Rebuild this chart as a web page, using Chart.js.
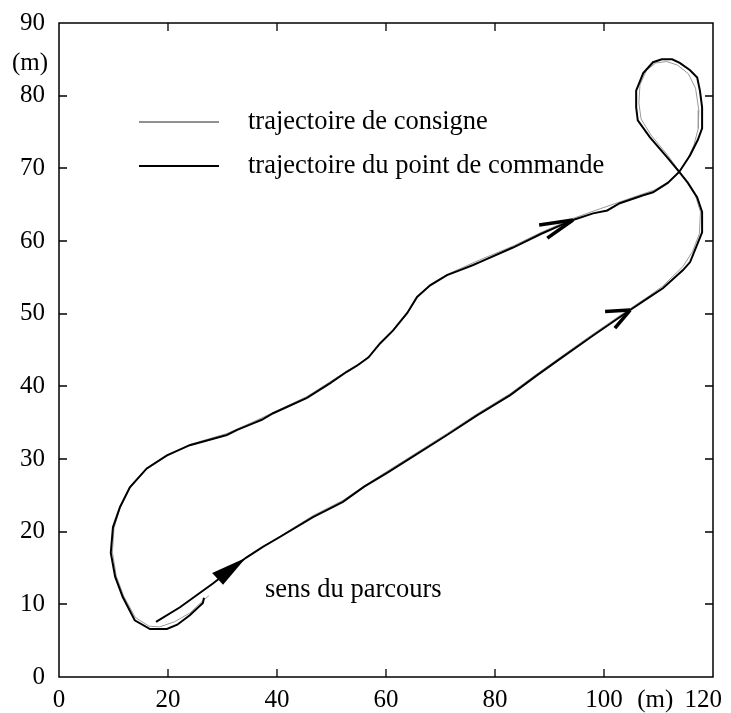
<!DOCTYPE html>
<html>
<head>
<meta charset="utf-8">
<title>Trajectoire</title>
<script src="https://cdn.jsdelivr.net/npm/chart.js@4.4.0/dist/chart.umd.min.js"></script>
<style>
  body { margin: 0; background: #fff; }
  #wrap { width: 731px; height: 713px; }
</style>
</head>
<body>
<div id="wrap"><canvas id="trajChart" width="731" height="713"></canvas></div>
<script>
// Axis ticks (metres)
const xTicks = [0, 20, 40, 60, 80, 100, 120];
const yTicks = [0, 10, 20, 30, 40, 50, 60, 70, 80, 90];
const unitLabel = '(m)';
const xUnitAt = 109.4;   // "(m)" placed between 100 and 120
const yUnitAt = 84.5;    // "(m)" placed between 80 and 90

const legendLabels = ['trajectoire de consigne', 'trajectoire du point de commande'];
const directionLabel = 'sens du parcours';
const directionLabelAt = [37.8, 11.0];

// Reference path (consigne)
const consigneX = [31.5, 34.6, 40.6, 46.6, 52.1, 56.0, 60.2, 65.5, 71.2, 76.7, 82.8, 87.5, 91.6, 98.0, 104.8, 108.4, 110.8,
  114.5, 116.2, 117.5, 117.7, 116.8, 115.2, 113.8, 111.8, 108.6, 106.8, 106.4, 106.6, 107.8, 109.5, 111.5, 113.5, 115.5,
  116.8, 117.4, 117.3, 116.5, 115.3, 113.8, 111.8, 109.2, 107.2, 103.0, 98.0, 94.3, 88.5, 83.3, 77.2, 73.6, 71.2, 68.1,
  65.7, 63.9, 61.3, 58.9, 56.5, 52.8, 49.7, 45.5, 39.3, 35.6, 30.8, 24.0, 19.8, 16.1, 13.0, 11.2, 10.1, 9.8, 10.5, 11.9,
  14.0, 16.5, 18.5, 21.2, 24.0, 26.4, 27.5];
const consigneY = [14.9, 16.6, 19.4, 22.2, 24.3, 26.3, 28.3, 30.8, 33.5, 36.2, 39.0, 41.6, 43.8, 47.2, 50.7, 52.5, 53.8,
  56.5, 58.5, 61.0, 64.0, 66.2, 68.1, 69.6, 71.7, 74.6, 76.8, 79.0, 81.5, 83.5, 84.5, 84.7, 84.2, 83.0,
  81.0, 78.0, 75.5, 73.2, 71.2, 69.6, 68.1, 67.0, 66.5, 65.4, 64.1, 63.1, 61.2, 59.3, 57.4, 56.2, 55.4, 54.0,
  52.2, 50.0, 47.6, 45.8, 43.8, 42.1, 40.6, 38.6, 36.4, 35.1, 33.5, 32.0, 30.4, 28.6, 26.0, 23.3, 20.5, 17.2, 13.9, 11.1,
  8.2, 7.0, 6.9, 7.6, 8.8, 10.5, 11.2];

// Measured path of the control point (commande)
const commandeX = [17.8, 22.2, 28.3, 34.3, 37.4, 40.6, 46.6, 52.1, 56.0, 60.2, 65.5, 71.2, 76.7, 82.8, 87.5, 91.6, 98.0,
  104.8, 108.4, 110.8, 114.5, 115.8, 117.2, 118.0, 118.0, 117.1, 115.4, 113.8, 111.6, 108.4, 106.2, 105.9, 105.9, 107.2,
  109.0, 110.6, 112.5, 113.9, 115.8, 117.1, 117.6, 118.0, 118.0, 117.2, 115.8, 113.8, 111.7, 109.0, 107.2, 102.9, 100.6,
  98.0, 94.3, 88.5, 83.3, 77.2, 76.0, 73.6, 71.2, 68.1, 65.7, 63.9, 61.3, 58.9, 56.8, 54.8, 52.8, 49.7, 45.5, 39.3, 37.2,
  35.6, 32.7, 30.8, 24.0, 19.8, 16.1, 13.0, 11.2, 9.9, 9.5, 10.3, 11.7, 13.9, 16.7, 19.8, 21.7, 24.0, 26.4, 26.6];
const commandeY = [7.6, 9.6, 12.9, 16.4, 17.9, 19.3, 22.0, 24.1, 26.2, 28.1, 30.6, 33.3, 36.0, 38.8, 41.4, 43.6, 47.0,
  50.5, 52.3, 53.5, 56.0, 57.1, 59.7, 61.2, 64.0, 66.0, 68.0, 69.5, 71.5, 74.3, 76.6, 78.4, 80.7, 83.1,
  84.6, 85.0, 85.0, 84.5, 83.5, 82.5, 80.7, 78.4, 75.5, 73.9, 71.8, 69.5, 68.0, 66.7, 66.3, 65.2, 64.2,
  63.8, 62.9, 61.0, 59.1, 57.1, 56.7, 56.0, 55.3, 53.9, 52.3, 50.1, 47.7, 45.9, 44.0, 42.9, 42.0, 40.4, 38.4, 36.3, 35.4,
  34.9, 34.0, 33.3, 31.9, 30.5, 28.7, 26.1, 23.4, 20.6, 17.1, 13.8, 11.0, 7.8, 6.6, 6.6, 7.2, 8.5, 10.2, 10.9];

// Direction arrows: filled start arrow, and open chevrons on the path
const startArrow = [[34.3, 16.4], [28.1, 14.3], [30.1, 12.7]];
const openArrows = [
  { tip: [94.3, 62.9], barbs: [[88.1, 62.2], [89.6, 60.4]] },
  { tip: [104.8, 50.5], barbs: [[100.2, 50.3], [102.0, 48.0]] }
];

const serif = '"Liberation Serif", "Times New Roman", Times, serif';
const toPoints = (xs, ys) => xs.map((v, i) => ({ x: v, y: ys[i] }));

// Frame, inward ticks, labels, legend and arrows
const paperPlugin = {
  id: 'paperFrame',
  afterDatasetsDraw(chart) {
    const { ctx, chartArea: a, scales: { x, y } } = chart;
    const tickLen = 8;
    const px = v => x.getPixelForValue(v);
    const py = v => y.getPixelForValue(v);

    ctx.save();
    ctx.strokeStyle = '#000';
    ctx.fillStyle = '#000';

    ctx.lineWidth = 1.5;
    ctx.strokeRect(a.left, a.top, a.right - a.left, a.bottom - a.top);

    ctx.lineWidth = 1.3;
    ctx.beginPath();
    xTicks.slice(1, -1).forEach(v => {
      const p = Math.round(px(v));
      ctx.moveTo(p, a.bottom); ctx.lineTo(p, a.bottom - tickLen);
      ctx.moveTo(p, a.top); ctx.lineTo(p, a.top + tickLen);
    });
    yTicks.slice(1, -1).forEach(v => {
      const p = Math.round(py(v));
      ctx.moveTo(a.left, p); ctx.lineTo(a.left + tickLen, p);
      ctx.moveTo(a.right, p); ctx.lineTo(a.right - tickLen, p);
    });
    ctx.stroke();

    // tick labels
    ctx.font = '25px ' + serif;
    ctx.textBaseline = 'middle';
    ctx.textAlign = 'right';
    yTicks.forEach(v => ctx.fillText(String(v), a.left - 14, py(v)));
    ctx.textAlign = 'center';
    ctx.fillText(unitLabel, a.left - 29, py(yUnitAt));
    const maxRight = chart.width - 9;
    xTicks.forEach(v => {
      const t = String(v);
      const w = ctx.measureText(t).width;
      ctx.fillText(t, Math.min(px(v), maxRight - w / 2), a.bottom + 23);
    });
    ctx.fillText(unitLabel, px(xUnitAt), a.bottom + 23);

    // legend
    ctx.font = '26.5px ' + serif;
    ctx.textAlign = 'left';
    ctx.textBaseline = 'alphabetic';
    const legendRows = [a.top + 99, a.top + 143];
    const legendWidths = [1, 2.2];
    const legendColors = ['#222', '#000'];
    legendRows.forEach((ly, i) => {
      ctx.beginPath();
      ctx.lineWidth = legendWidths[i];
      ctx.strokeStyle = legendColors[i];
      ctx.moveTo(a.left + 80, ly);
      ctx.lineTo(a.left + 160, ly);
      ctx.stroke();
      ctx.fillText(legendLabels[i], a.left + 189, ly + 7);
    });

    ctx.fillText(directionLabel, px(directionLabelAt[0]), py(directionLabelAt[1]));

    // filled arrow at the start of the run
    ctx.beginPath();
    startArrow.forEach(([vx, vy], i) => i ? ctx.lineTo(px(vx), py(vy)) : ctx.moveTo(px(vx), py(vy)));
    ctx.closePath();
    ctx.fill();

    // open chevrons on the path
    ctx.strokeStyle = '#000';
    ctx.lineWidth = 3.6;
    ctx.lineCap = 'butt';
    openArrows.forEach(arr => {
      ctx.beginPath();
      arr.barbs.forEach(([bx, by]) => {
        ctx.moveTo(px(bx), py(by));
        ctx.lineTo(px(arr.tip[0]), py(arr.tip[1]));
      });
      ctx.stroke();
    });

    ctx.restore();
  }
};

new Chart(document.getElementById('trajChart').getContext('2d'), {
  type: 'scatter',
  data: {
    datasets: [
      {
        label: legendLabels[0],
        data: toPoints(consigneX, consigneY),
        showLine: true,
        borderColor: '#9a9a9a',
        borderWidth: 1,
        pointRadius: 0,
        tension: 0,
        order: 1
      },
      {
        label: legendLabels[1],
        data: toPoints(commandeX, commandeY),
        showLine: true,
        borderColor: '#000',
        borderWidth: 2,
        pointRadius: 0,
        tension: 0,
        order: 0
      }
    ]
  },
  options: {
    responsive: false,
    animation: false,
    devicePixelRatio: 1,
    layout: { padding: { left: 59, top: 23, right: 18, bottom: 36 } },
    plugins: {
      legend: { display: false },
      tooltip: { enabled: false }
    },
    scales: {
      x: { type: 'linear', min: 0, max: 120, display: false },
      y: { type: 'linear', min: 0, max: 90, display: false }
    }
  },
  plugins: [paperPlugin]
});
</script>
</body>
</html>
